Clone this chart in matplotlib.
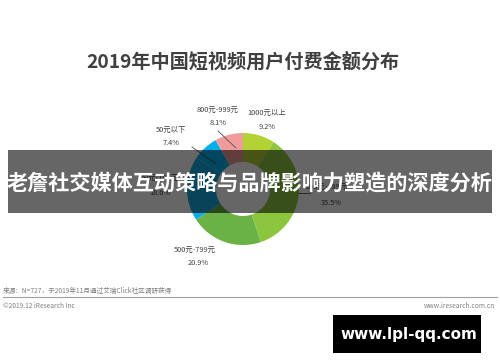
import matplotlib.pyplot as plt
from matplotlib.patches import Rectangle

plt.rcParams['font.family'] = ['Noto Sans CJK SC', 'DejaVu Sans']

# slices, clockwise from 12 o'clock
labels = ['1000元以上', '200元-499元', '500元-799元', '50元-199元', '50元以下', '800元-999元']
shares = [9.2, 35.5, 20.9, 18.6, 7.4, 8.1]
colors = ['#b3d335', '#8cc63f', '#6ab245', '#14a9e0', '#00b0ec', '#f19c9c']

title = '2019年中国短视频用户付费金额分布'
banner = '老詹社交媒体互动策略与品牌影响力塑造的深度分析'
source = '来源：N=727，于2019年11月通过艾瑞Click社区调研获得'

H = 362
fig = plt.figure(figsize=(5, 3.62), dpi=100)
ax = fig.add_axes([0, 0, 1, 1])

def Y(y):
    return H - y

ax.text(243, Y(62), title, ha='center', va='center', fontsize=13.8,
        fontweight='bold', color='#404040')

cx, cy, r = 243, Y(189), 56
ax.pie(shares, colors=colors, startangle=90, counterclock=False,
       center=(cx, cy), radius=r, wedgeprops=dict(width=29, linewidth=0))
ax.set_xlim(0, 500)
ax.set_ylim(0, H)
ax.set_aspect('auto')
ax.axis('off')

lab = dict(ha='center', va='center', fontsize=5.3, color='#404040')
ax.text(218, Y(110), labels[5], **lab)
ax.text(218, Y(123), f'{shares[5]}%', **lab)
ax.text(267, Y(113), labels[0], **lab)
ax.text(267, Y(127), f'{shares[0]}%', **lab)
ax.text(171, Y(130), labels[4], **lab)
ax.text(171, Y(143), f'{shares[4]}%', **lab)
ax.text(160, Y(178), labels[3], **lab)
ax.text(160, Y(193), f'{shares[3]}%', **lab)
ax.text(327, Y(187), labels[1], **lab)
ax.text(331, Y(203), f'{shares[1]}%', **lab)
ax.text(195, Y(250), labels[2], **lab)
ax.text(198, Y(263), f'{shares[2]}%', **lab)

ln = dict(color='#505050', lw=0.6)
ax.plot([192, 216], [Y(147), Y(164)], **ln)
ax.plot([218, 236], [Y(131), Y(148)], **ln)
ax.plot([298, 310], [Y(193), Y(193)], **ln)

ax.text(3, Y(291), source, ha='left', va='center', fontsize=4.8, color='#808080')
ax.plot([3, 497], [Y(297), Y(297)], color='#a0a0a0', lw=0.8)
ax.text(3, Y(306), '©2019.12 iResearch Inc', ha='left', va='center',
        fontsize=4.8, color='#808080')
ax.text(495, Y(306), 'www.iresearch.com.cn', ha='right', va='center',
        fontsize=4.8, color='#808080')

ax.add_patch(Rectangle((8, Y(213)), 484, 63, facecolor='black', alpha=0.6,
                       edgecolor='none', zorder=5))
ax.text(250, Y(183), banner, ha='center', va='center', fontsize=15.2,
        fontweight='bold', color='white', zorder=6)

ax.add_patch(Rectangle((333, Y(353)), 148, 38, facecolor='black',
                       edgecolor='none', zorder=5))
ax.text(409, Y(334), 'www.lpl-qq.com', ha='center', va='center', fontsize=11,
        fontweight='bold', color='white', family='DejaVu Sans', zorder=6)

fig.savefig('out.png', dpi=100)
